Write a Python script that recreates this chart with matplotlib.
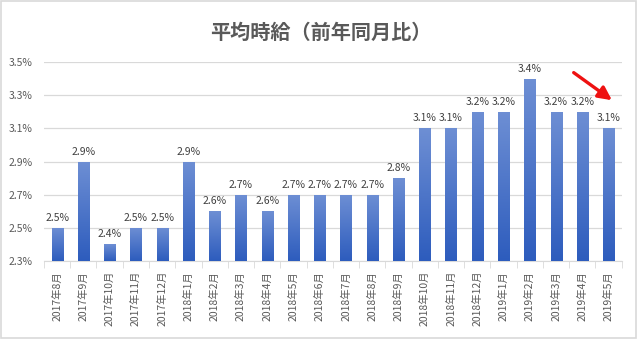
import matplotlib.pyplot as plt
import numpy as np
from matplotlib.colors import LinearSegmentedColormap

plt.rcParams['font.family'] = ['Noto Sans CJK JP', 'DejaVu Sans']

months = ['2017年8月', '2017年9月', '2017年10月', '2017年11月', '2017年12月',
          '2018年1月', '2018年2月', '2018年3月', '2018年4月', '2018年5月',
          '2018年6月', '2018年7月', '2018年8月', '2018年9月', '2018年10月',
          '2018年11月', '2018年12月', '2019年1月', '2019年2月', '2019年3月',
          '2019年4月', '2019年5月']
wage_yoy = [2.5, 2.9, 2.4, 2.5, 2.5, 2.9, 2.6, 2.7, 2.6, 2.7, 2.7,
            2.7, 2.7, 2.8, 3.1, 3.1, 3.2, 3.2, 3.4, 3.2, 3.2, 3.1]
yticks = [2.3, 2.5, 2.7, 2.9, 3.1, 3.3, 3.5]

text_color = '#595959'
grad = LinearSegmentedColormap.from_list('blue_grad', ['#2d5cbd', '#6e8fd4'])

fig = plt.figure(figsize=(6.37, 3.39), dpi=100)
# thin grey frame round the chart
fig.patches.append(plt.Rectangle((0.002, 0.003), 0.996, 0.994, transform=fig.transFigure,
                                 fill=False, edgecolor='#d9d9d9', linewidth=1.2))
ax = fig.add_axes([0.069, 0.230, 0.907, 0.587])

x = np.arange(len(months))
ymin = yticks[0]
bars = ax.bar(x, np.array(wage_yoy) - ymin, bottom=ymin, width=0.42,
              color='none', edgecolor='none', zorder=3)
gradient = np.linspace(0, 1, 256).reshape(-1, 1)
for b in bars:
    bx, by = b.get_x(), b.get_y()
    w, h = b.get_width(), b.get_height()
    im = ax.imshow(gradient, cmap=grad, origin='lower', aspect='auto',
                   extent=[bx, bx + w, by, by + h], zorder=3)
    im.set_clip_path(b)

for xi, v in zip(x, wage_yoy):
    ax.text(xi, v + 0.03, f'{v:.1f}%', ha='center', va='bottom',
            fontsize=7.5, color='#404040', zorder=4)

ax.set_xlim(-0.5, len(months) - 0.5)
ax.set_ylim(ymin, yticks[-1])
ax.set_yticks(yticks)
ax.set_yticklabels([f'{t:.1f}%' for t in yticks], fontsize=7.5, color=text_color)
ax.set_xticks(x)
ax.set_xticklabels(months, rotation=90, fontsize=7.5, color=text_color)
ax.set_xticks(np.arange(-0.5, len(months)), minor=True)
ax.tick_params(axis='x', which='major', length=0, pad=7)
ax.tick_params(axis='x', which='minor', length=5, color='#d9d9d9')
ax.tick_params(axis='y', length=0, pad=8)
ax.grid(axis='y', color='#d9d9d9', linewidth=0.9, zorder=0)
for side in ['top', 'right', 'left']:
    ax.spines[side].set_visible(False)
ax.spines['bottom'].set_color('#d9d9d9')

fig.text(0.503, 0.905, '平均時給（前年同月比）', ha='center', va='center',
         fontsize=14.5, color=text_color, fontweight='bold')

# red arrow pointing at the latest month
ax.annotate('', xy=(0.987, 0.80), xytext=(0.913, 0.955), xycoords='axes fraction',
            arrowprops=dict(arrowstyle='-|>,head_length=0.8,head_width=0.4',
                            color='#ee1111', linewidth=2.4),
            annotation_clip=False)

fig.savefig('out.png', dpi=100)
